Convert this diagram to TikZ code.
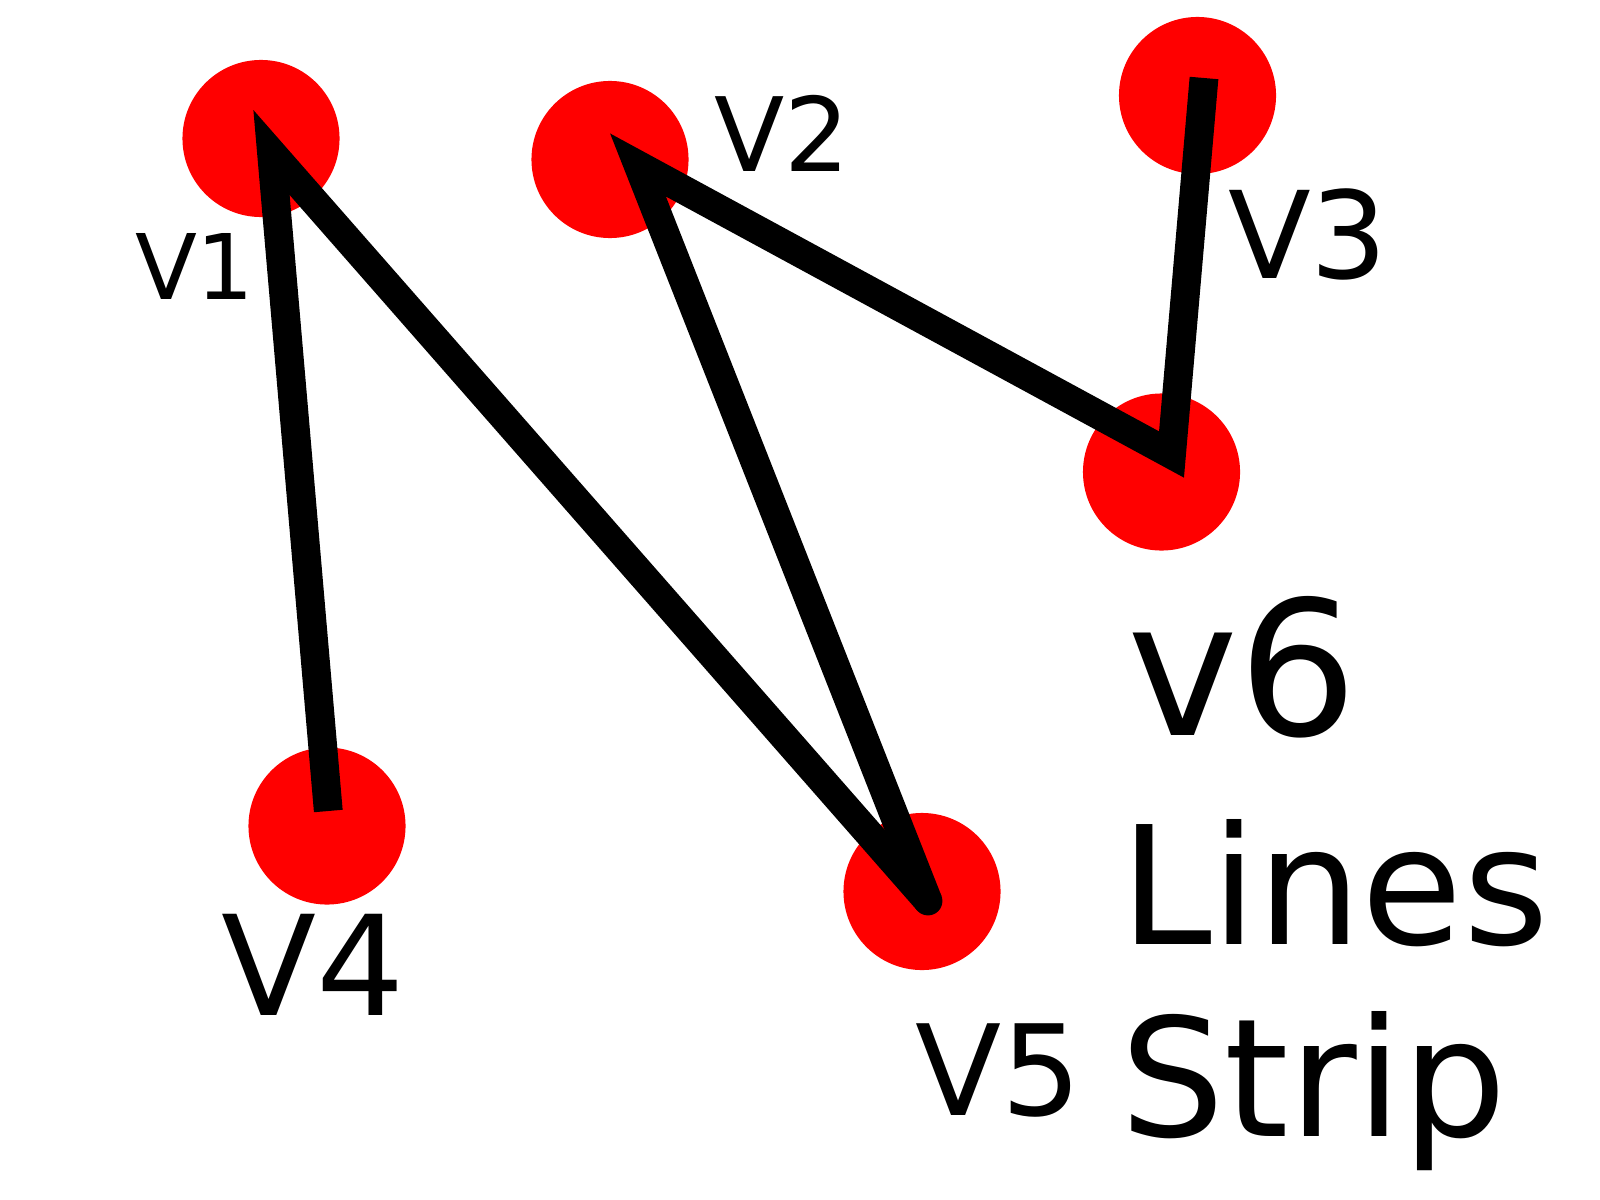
\documentclass[tikz,border=0pt]{standalone}
\usepackage{fontspec}
\setmainfont{DejaVu Sans}
\begin{document}
\begin{tikzpicture}[x=0.01cm,y=-0.01cm,
  vtx/.style={circle,fill=red,draw=none,inner sep=0pt,minimum size=1.57cm},
  stripline/.style={line width=8.19pt,line join=miter,miter limit=10,line cap=butt,draw=black},
  lbl/.style={anchor=base west,inner sep=0pt,text=black}]
\useasboundingbox (0,0) rectangle (1600,1200);
% vertex discs
\node[vtx] (c1) at (261,138.5) {};
\node[vtx] (c2) at (610,159.5) {};
\node[vtx] (c3) at (1197.5,95.5) {};
\node[vtx] (c4) at (327,826) {};
\node[vtx] (c5) at (922,891.5) {};
\node[vtx] (c6) at (1161.5,472) {};
% line strip vertices
\coordinate (p4) at (328.3,811);
\coordinate (p1) at (271.5,152.5);
\coordinate (p5) at (928,901);
\coordinate (p2) at (638,165);
\coordinate (p6) at (1171.5,454.5);
\coordinate (p3) at (1204,78);
\draw[stripline] (p4) -- (p1) -- (p5);
\draw[stripline] (p5) -- (p2) -- (p6) -- (p3);
\fill[black] (p5) circle[radius=0.144cm];
% labels
\node[lbl,font=\fontsize{25.75pt}{30pt}\selectfont] (l1) at (134.3,299) {V1};
\node[lbl,font=\fontsize{29.2pt}{34pt}\selectfont] (l2) at (713.5,171.7) {V2};
\node[lbl,font=\fontsize{34.4pt}{40pt}\selectfont] (l3) at (1227.3,278.3) {V3};
\node[lbl,font=\fontsize{39.5pt}{46pt}\selectfont] (l4) at (220.6,1015) {V4};
\node[lbl,font=\fontsize{35.8pt}{42pt}\selectfont] (l5) at (914.3,1115.5) {V5};
\node[lbl,font=\fontsize{53.3pt}{62pt}\selectfont] (l6) at (1126.5,735) {v6};
\node[lbl,font=\fontsize{46.8pt}{55pt}\selectfont] (t1) at (1119.5,944) {Lines};
\node[lbl,font=\fontsize{46.8pt}{55pt}\selectfont] (t2) at (1119.5,1136) {Strip};
\end{tikzpicture}
\end{document}
